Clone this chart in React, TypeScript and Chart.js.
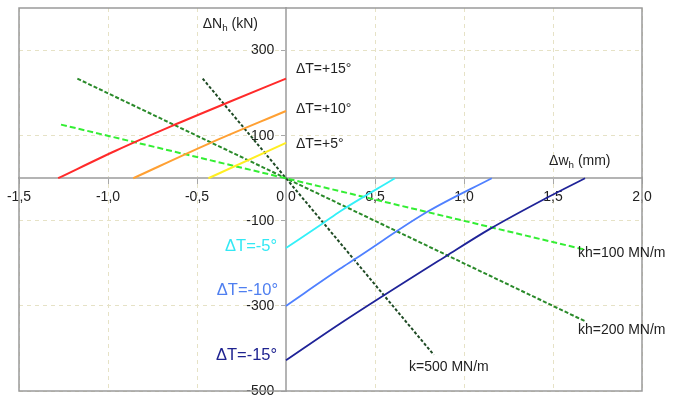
import React, { useEffect, useRef } from "react";
import { Chart, registerables } from "chart.js";

Chart.register(...registerables);

// Tick values
const xTicks = [-1.5, -1.0, -0.5, 0.0, 0.5, 1.0, 1.5, 2.0];
const yTicks = [-500, -300, -100, 100, 300];

// Temperature curves [Δw (mm), ΔN (kN)]
const dTp15 = [[-1.28, 0], [-0.96, 64], [-0.64, 123], [-0.32, 179], [0, 234]];
const dTp10 = [[-0.858, 0], [-0.43, 82], [0, 158]];
const dTp5 = [[-0.436, 0], [0, 83]];
const dTm5 = [[0, -164], [0.21, -105], [0.303, -78], [0.612, 0]];
const dTm10 = [[0, -300], [0.303, -213], [0.388, -190], [0.794, -79], [1.156, 0]];
const dTm15 = [[0, -428], [0.303, -342], [0.903, -182], [1.146, -119], [1.465, -46], [1.68, 0]];

// Stiffness lines
const kh100 = [[-1.264, 126], [1.68, -168]];
const kh200 = [[-1.172, 234], [1.68, -336]];
const k500 = [[-0.468, 234], [0.83, -415]];

const toPts = (a: number[][]) => a.map(([x, y]) => ({ x, y }));

const FONT = "'Liberation Sans', Arial, Helvetica, sans-serif";

type Lbl = { text: string; sub?: string; rest?: string; x: number; y: number; align: CanvasTextAlign; color: string; size: number };
const labels: Lbl[] = [
  { text: "ΔN", sub: "h", rest: " (kN)", x: -0.468, y: 362, align: "left", color: "#222", size: 14 },
  { text: "Δw", sub: "h", rest: " (mm)", x: 1.478, y: 39, align: "left", color: "#222", size: 14 },
  { text: "ΔT=+15°", x: 0.056, y: 256, align: "left", color: "#222", size: 14 },
  { text: "ΔT=+10°", x: 0.056, y: 162, align: "left", color: "#222", size: 14 },
  { text: "ΔT=+5°", x: 0.056, y: 79, align: "left", color: "#222", size: 14 },
  { text: "ΔT=-5°", x: -0.05, y: -160, align: "right", color: "#33e8f4", size: 16.5 },
  { text: "ΔT=-10°", x: -0.045, y: -263, align: "right", color: "#4f7ff0", size: 16.5 },
  { text: "ΔT=-15°", x: -0.05, y: -416, align: "right", color: "#1f2390", size: 16.5 },
  { text: "kh=100 MN/m", x: 1.64, y: -177, align: "left", color: "#222", size: 14 },
  { text: "kh=200 MN/m", x: 1.64, y: -358, align: "left", color: "#222", size: 14 },
  { text: "k=500 MN/m", x: 0.691, y: -445, align: "left", color: "#222", size: 14 },
];

const boxPlugin = {
  id: "boxAndLabels",
  beforeDatasetsDraw(chart: any) {
    const { ctx, chartArea: a } = chart;
    ctx.save();
    ctx.strokeStyle = "#9a9a9a";
    ctx.lineWidth = 1.5;
    ctx.strokeRect(a.left, a.top, a.right - a.left, a.bottom - a.top);
    ctx.restore();
  },
  afterDraw(chart: any) {
    const { ctx } = chart;
    const xs = chart.scales.x;
    const ys = chart.scales.y;
    ctx.save();
    ctx.textBaseline = "middle";
    for (const l of labels) {
      const px = xs.getPixelForValue(l.x);
      const py = ys.getPixelForValue(l.y);
      ctx.fillStyle = l.color;
      ctx.font = `${l.size}px ${FONT}`;
      ctx.textAlign = l.align;
      if (l.sub) {
        ctx.textAlign = "left";
        ctx.fillText(l.text, px, py);
        let w = ctx.measureText(l.text).width;
        ctx.font = `${l.size * 0.7}px ${FONT}`;
        ctx.fillText(l.sub, px + w, py + 4);
        w += ctx.measureText(l.sub).width;
        ctx.font = `${l.size}px ${FONT}`;
        ctx.fillText(l.rest || "", px + w, py);
      } else {
        ctx.fillText(l.text, px, py);
      }
    }
    ctx.restore();
  },
};

export default function App() {
  const ref = useRef<HTMLCanvasElement>(null);
  useEffect(() => {
    document.body.style.margin = "0";
    const line = (data: number[][], color: string, width: number, dash: number[] = []) => ({
      data: toPts(data),
      borderColor: color,
      backgroundColor: color,
      borderWidth: width,
      borderDash: dash,
      showLine: true,
      pointRadius: 0,
      tension: 0.3,
      cubicInterpolationMode: "monotone" as const,
      fill: false,
    });
    const chart = new Chart(ref.current!, {
      type: "scatter",
      data: {
        datasets: [
          line(dTp15, "#ff2a2a", 2),
          line(dTp10, "#ffa033", 2),
          line(dTp5, "#ffee22", 2),
          line(dTm5, "#33f0f8", 1.8),
          line(dTm10, "#4f80ff", 1.8),
          line(dTm15, "#1f2398", 1.8),
          line(kh100, "#33ee33", 2, [6, 3]),
          line(kh200, "#2a8a2a", 2, [4, 2]),
          line(k500, "#1e4a24", 2, [3, 2]),
        ] as any,
      },
      plugins: [boxPlugin],
      options: {
        animation: false,
        responsive: false,
        maintainAspectRatio: false,
        layout: { padding: { left: 19, right: 39, top: 8, bottom: 5 } },
        plugins: { legend: { display: false }, tooltip: { enabled: false } },
        scales: {
          x: {
            type: "linear",
            min: -1.5,
            max: 2.0,
            position: { y: 0 } as any,
            afterBuildTicks: (s: any) => { s.ticks = xTicks.map((v) => ({ value: v })); },
            afterFit: (s: any) => { s.paddingLeft = 0; s.paddingRight = 0; s.paddingTop = 0; s.paddingBottom = 0; },
            ticks: {
              font: { family: FONT, size: 14 },
              color: "#222",
              padding: 6,
              maxRotation: 0,
              autoSkip: false,
              callback: (v: any) => Number(v).toFixed(1).replace(".", ","),
            },
            grid: { color: "#e6e2c6", lineWidth: 1, tickColor: "#a8a8a8", tickLength: 5, tickWidth: 1 },
            border: { color: "#b4b4b4", width: 2, dash: [4, 4] },
          },
          y: {
            type: "linear",
            min: -500,
            max: 400,
            position: { x: 0 } as any,
            afterBuildTicks: (s: any) => { s.ticks = yTicks.map((v) => ({ value: v })); },
            afterFit: (s: any) => { s.paddingLeft = 0; s.paddingRight = 0; s.paddingTop = 0; s.paddingBottom = 0; },
            ticks: {
              font: { family: FONT, size: 14 },
              color: "#222",
              padding: 4,
              autoSkip: false,
              callback: (v: any) => String(v) + "   ",
            },
            grid: { color: "#e6e2c6", lineWidth: 1, tickColor: "#a8a8a8", tickLength: 4, tickWidth: 1 },
            border: { color: "#b4b4b4", width: 2, dash: [4, 4] },
          },
        },
      },
    });
    return () => chart.destroy();
  }, []);
  return <canvas ref={ref} width={681} height={396} style={{ display: "block" }} />;
}
